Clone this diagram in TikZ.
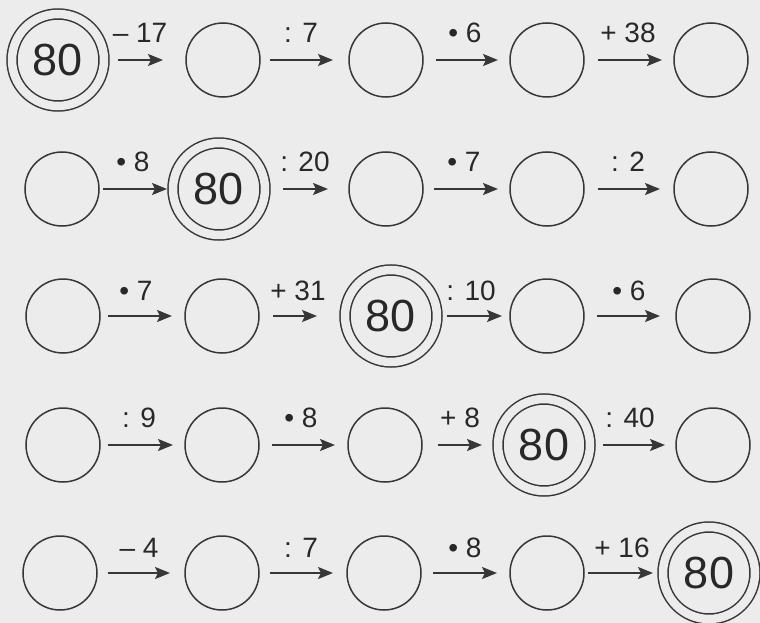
\documentclass[tikz,border=0pt]{standalone}
\usepackage{fontspec}
\setmainfont{Liberation Sans}
\usetikzlibrary{arrows.meta}
\definecolor{bgc}{RGB}{236,236,236}
\definecolor{ink}{RGB}{55,55,55}
\definecolor{txt}{RGB}{40,40,40}
\begin{document}
\begin{tikzpicture}[x=1pt,y=-1pt,
  plain/.style={circle,draw=ink,line width=1.5pt,minimum size=74pt,inner sep=0pt,outer sep=0pt},
  dbl/.style={circle,draw=ink,line width=1.5pt,double=bgc,double distance=8.5pt,minimum size=92pt,inner sep=0pt,outer sep=0pt,text=txt,font=\fontsize{45}{48}\selectfont},
  arr/.style={draw=ink,line width=2.2pt,-{Stealth[length=15pt,width=12pt,inset=3pt]}},
  op/.style={text=txt,font=\fontsize{28}{30}\selectfont,inner sep=0pt}]
\fill[bgc] (0,0) rectangle (760,623);
\useasboundingbox (0,0) rectangle (760,623);
% Row 1
\node[dbl] (a1) at (58,60) {80};
\node[plain] (a2) at (223,60) {};
\node[plain] (a3) at (386,60) {};
\node[plain] (a4) at (547,60) {};
\node[plain] (a5) at (711,60) {};
\draw[arr,shorten <=14pt,shorten >=23pt] (a1) -- (a2);
\draw[arr,shorten <=10pt,shorten >=16pt] (a2) -- (a3);
\draw[arr,shorten <=13pt,shorten >=12pt] (a3) -- (a4);
\draw[arr,shorten <=14pt,shorten >=12pt] (a4) -- (a5);
\node[op] (la1) at (140,33) {– 17};
\node[op] (la2) at (301,33) {: 7};
\node[op] (la3) at (465,33) {• 6};
\node[op] (la4) at (628,33) {+ 38};
% Row 2
\node[plain] (b1) at (62,189) {};
\node[dbl] (b2) at (219,189) {80};
\node[plain] (b3) at (386,189) {};
\node[plain] (b4) at (547,189) {};
\node[plain] (b5) at (711,189) {};
\draw[arr,shorten <=4pt,shorten >=6pt] (b1) -- (b2);
\draw[arr,shorten <=18pt,shorten >=21pt] (b2) -- (b3);
\draw[arr,shorten <=11pt,shorten >=12pt] (b3) -- (b4);
\draw[arr,shorten <=14pt,shorten >=14pt] (b4) -- (b5);
\node[op] (lb1) at (133,162) {• 8};
\node[op] (lb2) at (305,162) {: 20};
\node[op] (lb3) at (464,162) {• 7};
\node[op] (lb4) at (628,162) {: 2};
% Row 3
\node[plain] (c1) at (63,316) {};
\node[plain] (c2) at (222,316) {};
\node[dbl] (c3) at (391,316) {80};
\node[plain] (c4) at (547,316) {};
\node[plain] (c5) at (713,316) {};
\draw[arr,shorten <=8pt,shorten >=13pt] (c1) -- (c2);
\draw[arr,shorten <=14pt,shorten >=28pt] (c2) -- (c3);
\draw[arr,shorten <=10pt,shorten >=8pt] (c3) -- (c4);
\draw[arr,shorten <=13pt,shorten >=16pt] (c4) -- (c5);
\node[op] (lc1) at (136,291) {• 7};
\node[op] (lc2) at (298,291) {+ 31};
\node[op] (lc3) at (471,291) {: 10};
\node[op] (lc4) at (629,291) {• 6};
% Row 4
\node[plain] (d1) at (63,445) {};
\node[plain] (d2) at (222,445) {};
\node[plain] (d3) at (385,445) {};
\node[dbl] (d4) at (544,445) {80};
\node[plain] (d5) at (713,445) {};
\draw[arr,shorten <=8pt,shorten >=12pt] (d1) -- (d2);
\draw[arr,shorten <=13pt,shorten >=13pt] (d2) -- (d3);
\draw[arr,shorten <=16pt,shorten >=16pt] (d3) -- (d4);
\draw[arr,shorten <=13pt,shorten >=11pt] (d4) -- (d5);
\node[op] (ld1) at (139,418) {: 9};
\node[op] (ld2) at (301,418) {• 8};
\node[op] (ld3) at (460,418) {+ 8};
\node[op] (ld4) at (630,418) {: 40};
% Row 5
\node[plain] (e1) at (60,573) {};
\node[plain] (e2) at (222,573) {};
\node[plain] (e3) at (384,573) {};
\node[plain] (e4) at (547,573) {};
\node[dbl] (e5) at (709,573) {80};
\draw[arr,shorten <=11pt,shorten >=15pt] (e1) -- (e2);
\draw[arr,shorten <=11pt,shorten >=14pt] (e2) -- (e3);
\draw[arr,shorten <=12pt,shorten >=13pt] (e3) -- (e4);
\draw[arr,shorten <=4pt,shorten >=10pt] (e4) -- (e5);
\node[op] (le1) at (139,548) {– 4};
\node[op] (le2) at (301,548) {: 7};
\node[op] (le3) at (465,548) {• 8};
\node[op] (le4) at (622,548) {+ 16};
\end{tikzpicture}
\end{document}
